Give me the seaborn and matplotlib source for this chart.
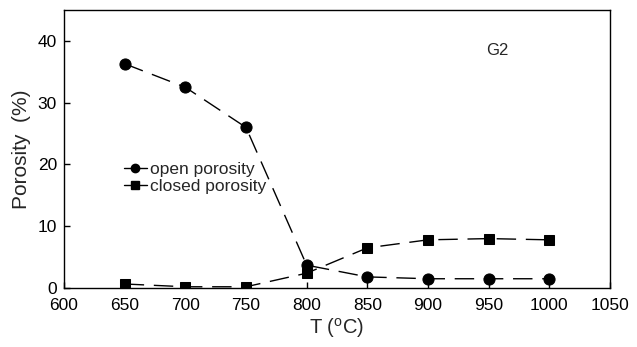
import numpy as np
import pandas as pd
import matplotlib
matplotlib.use("Agg")
import matplotlib.pyplot as plt
from matplotlib.lines import Line2D
import seaborn as sns

# data
temps = [650, 700, 750, 800, 850, 900, 950, 1000]
open_porosity = [36.3, 32.5, 26.0, 3.7, 1.8, 1.5, 1.5, 1.5]
closed_porosity = [0.65, 0.2, 0.2, 2.4, 6.5, 7.8, 8.0, 7.8]
x_ticks = [600, 650, 700, 750, 800, 850, 900, 950, 1000, 1050]
y_ticks = [0, 10, 20, 30, 40]

sns.set_style("ticks")
plt.rcParams["font.family"] = ["Liberation Sans", "DejaVu Sans"]

fig = plt.figure(figsize=(6.37, 3.47), dpi=100)
ax = fig.add_axes([0.1005, 0.170, 0.857, 0.801])

dash = (0, (14, 7))
sns.lineplot(x=temps, y=open_porosity, ax=ax, color="black", marker="o",
             markersize=8, linestyle=dash, linewidth=1.0, markeredgecolor="black")
sns.lineplot(x=temps, y=closed_porosity, ax=ax, color="black", marker="s",
             markersize=7, linestyle=dash, linewidth=1.0, markeredgecolor="black")

ax.set_xlim(600, 1050)
ax.set_ylim(0, 45)
ax.set_xticks(x_ticks)
ax.set_yticks(y_ticks)
ax.tick_params(direction="in", labelsize=12.5, length=4, width=1, colors="black")
ax.tick_params(axis="x", pad=7)
ax.tick_params(axis="y", pad=5)
for s in ax.spines.values():
    s.set_visible(True)
    s.set_linewidth(1.0)
    s.set_color("black")

ax.set_xlabel("T ($^{\\mathregular{o}}$C)", fontsize=14.5, labelpad=2)
ax.set_ylabel("Porosity  (%)", fontsize=15, labelpad=5)

ax.text(0.773, 0.84, "G2", transform=ax.transAxes, fontsize=12, va="baseline")

handles = [
    Line2D([], [], color="black", marker="o", markersize=6, linewidth=1.0),
    Line2D([], [], color="black", marker="s", markersize=6, linewidth=1.0),
]
ax.legend(handles, ["open porosity", "closed porosity"], loc="upper left",
          bbox_to_anchor=(0.11, 0.455), frameon=False, fontsize=12.5,
          handlelength=1.3, handletextpad=0.2, labelspacing=0.1,
          borderaxespad=0, borderpad=0)

fig.savefig("out.png", dpi=100)
